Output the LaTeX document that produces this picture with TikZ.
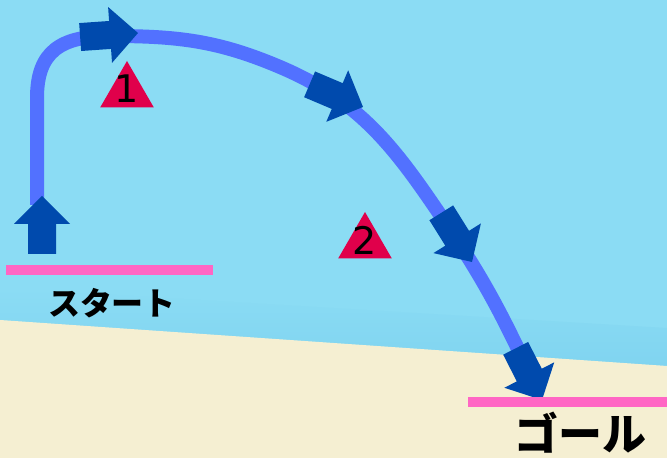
\documentclass[tikz,border=0pt]{standalone}
\usepackage{fontspec}
\usepackage{tikz}
\usepackage{xcolor}
\usetikzlibrary{shapes.geometric}
\newfontfamily\jpfont{Noto Sans CJK JP}
\newfontfamily\numfont{DejaVu Sans}
\definecolor{sky}{HTML}{8BDCF4}
\definecolor{skydeep}{HTML}{80D4F0}
\definecolor{sand}{HTML}{F5EFD2}
\definecolor{routeblue}{HTML}{5271FF}
\definecolor{arrowblue}{HTML}{004AAD}
\definecolor{linepink}{HTML}{FF66C4}
\definecolor{markred}{HTML}{E0004B}
\tikzstyle{route} = [draw=routeblue, line width=14pt, line join=round]
\tikzstyle{markline} = [draw=linepink, line width=10pt]
\tikzstyle{hazard} = [regular polygon, regular polygon sides=3, fill=markred, minimum size=62pt, inner sep=0pt]
\tikzstyle{num} = [font=\numfont\fontsize{38}{38}\selectfont, inner sep=0pt]
\tikzstyle{sign} = [font=\jpfont\bfseries\fontsize{32}{32}\selectfont, inner sep=0pt]
\tikzset{bigarrow/.pic={
  \fill[arrowblue] (0,0) -- (-28,28) -- (-28,14) -- (-58,14) -- (-58,-14) -- (-28,-14) -- (-28,-28) -- cycle;
}}

\begin{document}
\begin{tikzpicture}[x=1pt,y=1pt]
  \useasboundingbox (0,0) rectangle (667,458);
  \fill[sky] (0,0) rectangle (667,458);
  \shade[top color=sky, bottom color=skydeep] (0,138) -- (0,170) -- (667,130) -- (667,92) -- cycle;
  \fill[sand] (0,0) -- (0,138) -- (667,92) -- (667,0) -- cycle;

  \coordinate (start) at (37,253);
  \coordinate (corner) at (37,360);
  \coordinate (top) at (110,422);
  \coordinate (bend1) at (280,391);
  \coordinate (bend2) at (447,233);
  \coordinate (finish) at (535,73);

  \draw[route] (start) -- (corner) .. controls (37,406) and (60,422) .. (top)
    to[out=0,in=157] (bend1) to[out=-23,in=124] (bend2) to[out=-56,in=115] (finish);

  \pic[rotate=90] at (42,262) {bigarrow};
  \pic[rotate=4] at (138,425) {bigarrow};
  \pic[rotate=-23] at (363,351) {bigarrow};
  \pic[rotate=-58] at (472,196) {bigarrow};
  \pic[rotate=-63] at (542,58) {bigarrow};

  \node[hazard] (tri1) at (127,366) {};
  \node[num] (n1) at ([yshift=3pt]tri1.center) {1};
  \node[hazard] (tri2) at (365,215) {};
  \node[num] (n2) at ([yshift=3pt]tri2.center) {2};

  \draw[markline] (6,188) -- (213,188);
  \draw[markline] (468,56) -- (667,56);

  \node[sign] (startlabel) at (112,155) {スタート};
  \node[sign, font=\jpfont\bfseries\fontsize{44}{44}\selectfont] (goallabel) at (580,25) {ゴール};
\end{tikzpicture}
\end{document}
